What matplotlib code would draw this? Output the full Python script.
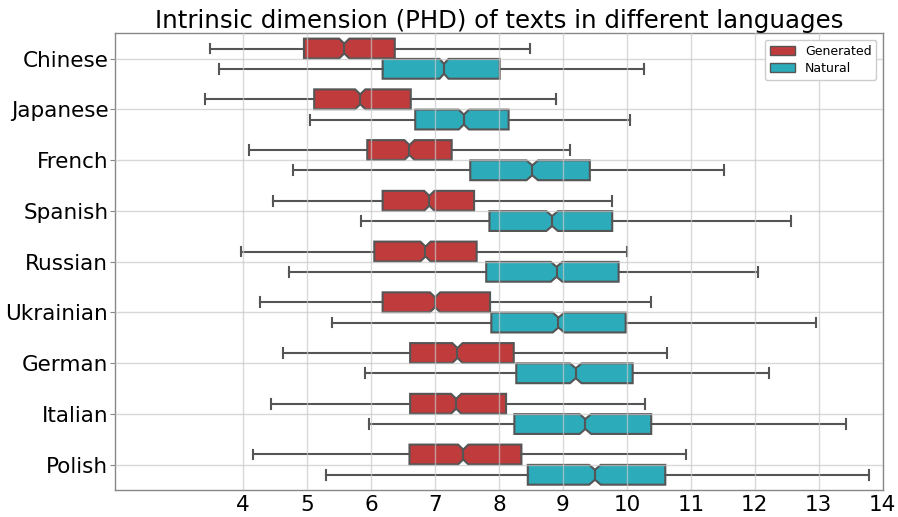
import matplotlib
matplotlib.use("Agg")
import matplotlib.pyplot as plt
from matplotlib.patches import Patch
import numpy as np

languages = ["Chinese", "Japanese", "French", "Spanish", "Russian",
             "Ukrainian", "German", "Italian", "Polish"]
series = ["Generated", "Natural"]

# Generated statistics
gen_whislo = [3.48, 3.41, 4.09, 4.46, 3.97, 4.26, 4.63, 4.44, 4.16]
gen_q1     = [4.95, 5.11, 5.94, 6.18, 6.05, 6.18, 6.61, 6.61, 6.60]
gen_med    = [5.58, 5.83, 6.60, 6.91, 6.85, 7.00, 7.35, 7.33, 7.44]
gen_q3     = [6.37, 6.62, 7.26, 7.61, 7.65, 7.86, 8.23, 8.11, 8.35]
gen_whishi = [8.48, 8.89, 9.11, 9.76, 10.00, 10.38, 10.62, 10.28, 10.92]
gen_notch  = [0.08, 0.08, 0.08, 0.08, 0.08, 0.08, 0.08, 0.08, 0.08]

# Natural statistics
nat_whislo = [3.62, 5.04, 4.78, 5.84, 4.71, 5.39, 5.90, 5.97, 5.30]
nat_q1     = [6.18, 6.69, 7.55, 7.85, 7.80, 7.88, 8.27, 8.24, 8.45]
nat_med    = [7.14, 7.45, 8.52, 8.83, 8.90, 8.93, 9.20, 9.35, 9.50]
nat_q3     = [8.01, 8.15, 9.42, 9.77, 9.87, 9.98, 10.09, 10.38, 10.60]
nat_whishi = [10.26, 10.05, 11.52, 12.56, 12.05, 12.95, 12.22, 13.42, 13.78]
nat_notch  = [0.07, 0.08, 0.09, 0.09, 0.09, 0.09, 0.09, 0.09, 0.09]

xticks = [4, 5, 6, 7, 8, 9, 10, 11, 12, 13, 14]

colors = {"Generated": "#BF3B3C", "Natural": "#2CABBA"}
edge = "#555555"


def make_stats(wl, q1, med, q3, wh, nh):
    out = []
    for a, b, c, d, e, n in zip(wl, q1, med, q3, wh, nh):
        out.append(dict(whislo=a, q1=b, med=c, q3=d, whishi=e,
                        cilo=c - n, cihi=c + n, fliers=[]))
    return out


fig = plt.figure(figsize=(8.98, 5.17), dpi=100)
ax = fig.add_axes([0.1284, 0.0522, 0.983 - 0.1284, 0.9356 - 0.0522])

stats_sets = {
    "Generated": make_stats(gen_whislo, gen_q1, gen_med, gen_q3, gen_whishi, gen_notch),
    "Natural": make_stats(nat_whislo, nat_q1, nat_med, nat_q3, nat_whishi, nat_notch),
}
offsets = {"Generated": -0.2, "Natural": 0.2}
idx = np.arange(len(languages))

for s in series:
    pos = idx + offsets[s]
    ax.bxp(stats_sets[s], positions=pos, widths=0.39, vert=False,
           shownotches=True, showfliers=False, patch_artist=True,
           boxprops=dict(facecolor=colors[s], edgecolor=edge, linewidth=1.5),
           whiskerprops=dict(color=edge, linewidth=1.5),
           capprops=dict(color=edge, linewidth=1.5),
           medianprops=dict(color=edge, linewidth=1.5),
           manage_ticks=False)

ax.set_xlim(2, 14)
ax.set_ylim(len(languages) - 0.5, -0.5)
ax.set_xticks(xticks)
ax.set_xticklabels([str(t) for t in xticks], fontsize=15.5)
ax.set_yticks(idx)
ax.set_yticklabels(languages, fontsize=15.5)
ax.tick_params(axis="x", length=0, pad=3.5)
ax.tick_params(axis="y", length=3.5, width=0.8, color="#888888", pad=1.5)

ax.set_axisbelow(False)
ax.grid(True, color="#c8c8c8", linewidth=1.0, alpha=0.7)
for sp in ax.spines.values():
    sp.set_color("#888888")
    sp.set_linewidth(1.0)

ax.set_title("Intrinsic dimension (PHD) of texts in different languages",
             fontsize=17.6, pad=4)

handles = [Patch(facecolor=colors[s], edgecolor=edge, linewidth=1.0, label=s) for s in series]
ax.legend(handles=handles, loc="upper right", fontsize=9, framealpha=1.0,
          labelspacing=0.35)

fig.savefig("out.png", dpi=100)
